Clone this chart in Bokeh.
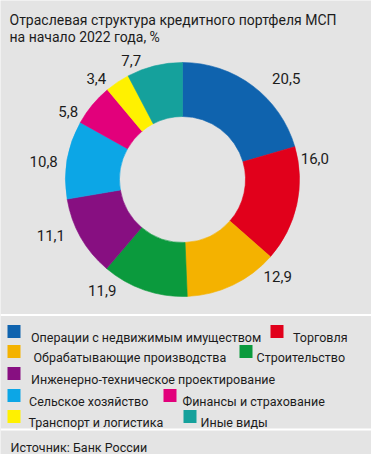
import math
from bokeh.plotting import figure
from bokeh.models import Range1d, ColumnDataSource
from bokeh.core.properties import value
from bokeh.embed import file_html
from bokeh.resources import INLINE

# ---------------- data ----------------
TITLE_LINES = ["Отраслевая структура кредитного портфеля МСП",
               "на начало 2022 года, %"]
categories = ["Операции с недвижимым имуществом", "Торговля",
              "Обрабатывающие производства", "Строительство",
              "Инженерно-техническое проектирование",
              "Сельское хозяйство", "Финансы и страхование",
              "Транспорт и логистика", "Иные виды"]
shares = [20.5, 16.0, 12.9, 11.9, 11.1, 10.8, 5.8, 3.4, 7.7]
SOURCE = "Источник: Банк России"

# ---------------- style / layout ----------------
colors = ["#0f63ae", "#e1001b", "#f4b200", "#0b9a3d", "#870f81",
          "#0ca6e6", "#e2007b", "#fff100", "#15a19c"]
BG = "#e4e4e4"
INK = "#1c1c1c"
FONT = "Roboto"

W, H = 371, 454
OX, OY = 0, 0          # shift from reference pixel grid to figure pixels

def fx(rx):
    return rx - OX

def fy(ry):
    return H - (ry - OY)

CX, CY = 182, 179      # donut centre (reference px)
R_OUT, R_IN = 117, 63
label_nudge_deg = [8.8, -21.5, -18.9, 16.8, 6.6, -2.4, -8.9, -6.6, -9.4]
label_radius = [145, 134, 136, 137, 143, 140, 133, 133, 130]

legend_row_baseline = [337, 357, 379, 401, 422]
legend_row = [0, 0, 1, 1, 2, 3, 3, 4, 4]
legend_sq_x = [7, 270, 7, 239, 7, 7, 163, 7, 183]
legend_text_x = [30.5, 292.5, 33, 256, 30.5, 28.5, 182, 28, 200]
SQ = 13

p = figure(width=W, height=H, x_range=Range1d(0, W), y_range=Range1d(0, H),
           output_backend="svg", toolbar_location=None, min_border=0,
           background_fill_color=BG, border_fill_color=BG,
           outline_line_color=None)
p.axis.visible = False
p.grid.visible = False

# ---------------- donut ----------------
total = sum(shares)
starts, ends, mids = [], [], []
cum = 0.0
for s in shares:
    a0 = cum / total * 2 * math.pi
    cum += s
    a1 = cum / total * 2 * math.pi
    starts.append(math.pi / 2 - a0)
    ends.append(math.pi / 2 - a1)
    mids.append((a0 + a1) / 2)

src = ColumnDataSource(dict(start=starts, end=ends, color=colors,
                            x=[fx(CX)] * len(shares), y=[fy(CY)] * len(shares)))
p.annular_wedge(x="x", y="y", inner_radius=R_IN, outer_radius=R_OUT,
                start_angle="start", end_angle="end", direction="clock",
                fill_color="color", line_color="color", line_width=0.6,
                source=src)

lx, ly, lt = [], [], []
for m, s, nd, r in zip(mids, shares, label_nudge_deg, label_radius):
    a = m + math.radians(nd)
    lx.append(fx(CX + r * math.sin(a)))
    ly.append(fy(CY - r * math.cos(a)))
    lt.append(f"{s:.1f}".replace(".", ","))
p.text(x=lx, y=ly, text=lt, text_align="center", text_baseline="middle",
       text_font=value(FONT), text_font_size="15px", text_color=INK)

# ---------------- title ----------------
p.text(x=[fx(9), fx(9)], y=[fy(19.5), fy(36)], text=TITLE_LINES,
       text_align="left", text_baseline="alphabetic",
       text_font=value(FONT), text_font_size="14px", text_color=INK)

# ---------------- separators ----------------
for ry in (314.5, 429):
    p.line(x=[0, W], y=[fy(ry), fy(ry)], line_color="white", line_width=2)

# ---------------- legend ----------------
sq_x, sq_y, tx, ty = [], [], [], []
for r, sx, t in zip(legend_row, legend_sq_x, legend_text_x):
    b = legend_row_baseline[r]
    sq_x.append(fx(sx + SQ / 2))
    sq_y.append(fy(b - SQ / 2 + 0.5))
    tx.append(fx(t))
    ty.append(fy(b))
p.rect(x=sq_x, y=sq_y, width=SQ, height=SQ, fill_color=colors, line_color=None)
p.text(x=tx, y=ty, text=categories, text_align="left", text_baseline="alphabetic",
       text_font=value(FONT), text_font_size="12.5px", text_color=INK)

# ---------------- source ----------------
p.text(x=[fx(10)], y=[fy(446.5)], text=[SOURCE], text_align="left",
       text_baseline="alphabetic", text_font=value(FONT),
       text_font_size="12.5px", text_color=INK)

open("out.html", "w").write(file_html(p, INLINE))
